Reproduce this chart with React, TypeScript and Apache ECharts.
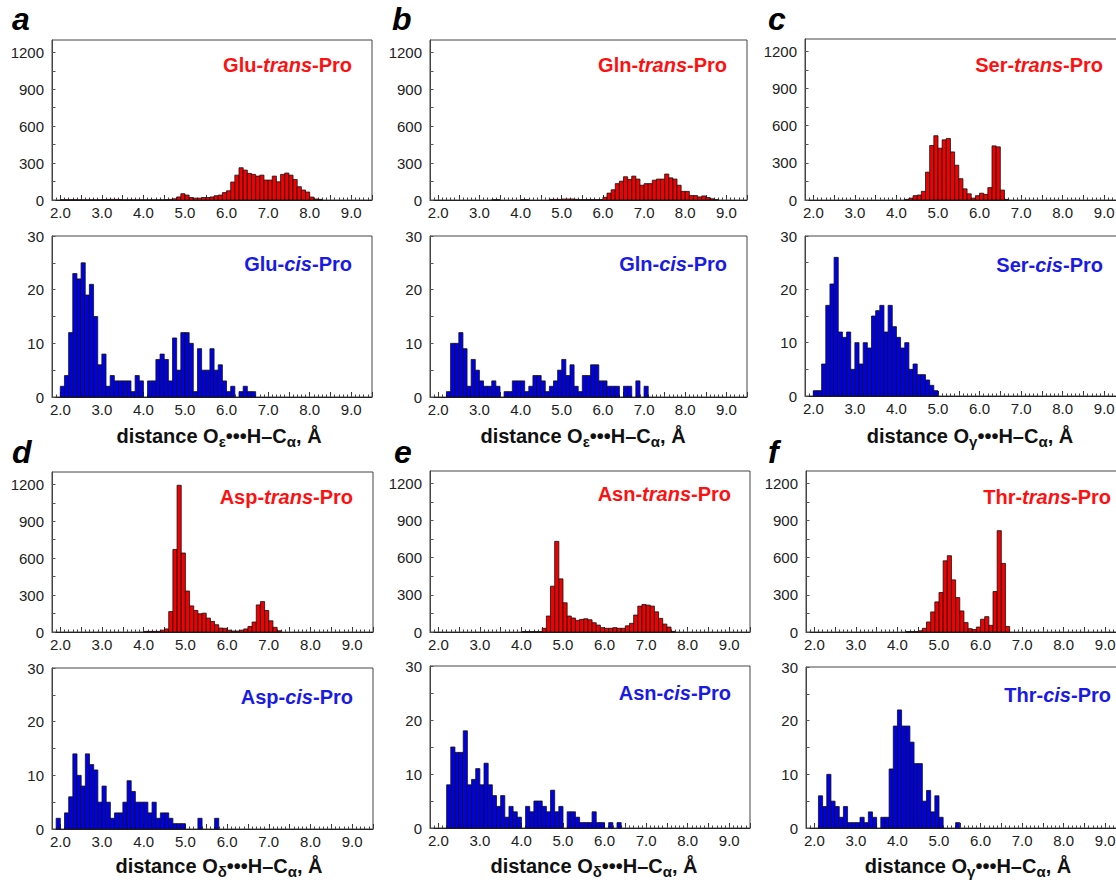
import React, { useEffect, useRef } from "react";
import * as echarts from "echarts";

// ---------- axes ----------
const BIN_WIDTH = 0.1;
const X_MIN = 1.8;
const X_MAX = 9.5;
const X_LABELS = [2, 3, 4, 5, 6, 7, 8, 9];
const X_MAJOR_TICKS = [2, 2.5, 3, 3.5, 4, 4.5, 5, 5.5, 6, 6.5, 7, 7.5, 8, 8.5, 9, 9.5];
const X_MINOR_TICKS: number[] = [];
for (let k = 18; k <= 95; k++) X_MINOR_TICKS.push(k / 10);

const TRANS_Y_MAX = 1300;
const TRANS_Y_LABELS = [0, 300, 600, 900, 1200];
const TRANS_Y_TICKS = [0, 150, 300, 450, 600, 750, 900, 1050, 1200];
const CIS_Y_MAX = 30;
const CIS_Y_LABELS = [0, 10, 20, 30];
const CIS_Y_TICKS = [0, 5, 10, 15, 20, 25, 30];

// ---------- histogram data (bin start, then counts per 0.1 Å bin) ----------
const GLU_TRANS_START = 2.0;
const GLU_TRANS = [
  2, 2, 2, 2, 1, 1, 1, 1, 1, 1,
  4, 5, 5, 5, 4, 1, 1, 1, 1, 1,
  1, 1, 1, 1, 1, 3, 5, 10, 25, 51,
  40, 20, 15, 15, 20, 20, 25, 35, 40, 60,
  75, 146, 202, 262, 243, 216, 208, 194, 202, 162,
  162, 194, 148, 208, 219, 202, 167, 108, 81, 65,
  24, 8, 5,
];
const GLU_CIS_START = 2.0;
const GLU_CIS = [
  2, 4, 12, 23, 22, 25, 19, 21, 15, 6,
  8, 2, 4, 3, 3, 3, 3, 1, 4, 3,
  0, 3, 3, 7, 8, 7, 3, 11, 5, 12,
  12, 10, 1, 9, 5, 5, 9, 5, 6, 3,
  1, 2, 0, 1, 2, 1, 1,
];
const GLN_TRANS_START = 3.0;
const GLN_TRANS = [
  0, 0, 0, 2, 2, 0, 0, 0, 0, 0,
  2, 2, 0, 0, 0, 0, 0, 5, 5, 5,
  8, 8, 8, 5, 3, 3, 3, 3, 3, 3,
  22, 56, 83, 133, 153, 189, 167, 194, 170, 120,
  133, 133, 161, 170, 170, 211, 180, 170, 120, 70,
  70, 36, 36, 25, 33, 20, 10, 3,
];
const GLN_CIS_START = 2.2;
const GLN_CIS = [
  1, 10, 10, 12, 9, 2, 7, 5,
  3, 2, 2, 3, 2, 0, 1, 1, 3, 3,
  3, 1, 2, 4, 4, 3, 1, 2, 3, 5,
  7, 4, 6, 2, 1, 4, 4, 6, 6, 3,
  3, 2, 2, 2, 0, 2, 2, 0, 3, 0,
  2,
];
const SER_TRANS_START = 4.2;
const SER_TRANS = [
  5, 15, 35, 40, 70, 225, 440, 519,
  418, 486, 497, 388, 281, 172, 90, 50, 15, 35,
  55, 45, 100, 437, 429, 80, 5,
];
const SER_CIS_START = 2.0;
const SER_CIS = [
  1, 1, 6, 17, 21, 26, 12, 11, 12, 5,
  10, 6, 10, 9, 15, 16, 17, 12, 17, 13,
  11, 9, 10, 5, 6, 4, 4, 3, 2, 1,
];
const ASP_TRANS_START = 4.0;
const ASP_TRANS = [
  5, 5, 5, 5, 15, 25, 166, 671, 1192, 642,
  333, 212, 175, 148, 153, 113, 86, 59, 32, 30,
  15, 8, 8, 15, 25, 45, 81, 220, 247, 175,
  91, 38, 10,
];
const ASP_CIS_START = 1.9;
const ASP_CIS = [
  2, 0, 3, 6, 14, 10, 8, 14, 12, 11, 5,
  8, 5, 2, 3, 3, 5, 9, 7, 5, 5,
  5, 3, 5, 2, 3, 3, 2, 1, 1, 1,
  0, 0, 0, 2, 0, 0, 0, 2,
];
const ASN_TRANS_START = 4.0;
const ASN_TRANS = [
  3, 3, 3, 3, 3, 30, 129, 370, 732, 429,
  236, 129, 113, 94, 102, 107, 99, 75, 56, 35,
  30, 30, 35, 30, 30, 50, 70, 137, 209, 222,
  217, 209, 163, 110, 64, 40, 5,
];
const ASN_CIS_START = 2.2;
const ASN_CIS = [
  8, 15, 14, 14, 18, 8, 9, 11,
  8, 12, 8, 6, 4, 6, 2, 4, 3, 2,
  0, 4, 3, 5, 5, 4, 3, 7, 3, 4,
  0, 3, 3, 2, 1, 1, 1, 3, 1, 1,
  0, 1, 0, 1,
];
const THR_TRANS_START = 4.2;
const THR_TRANS = [
  3, 3, 3, 10, 30, 81, 162, 243,
  319, 575, 616, 421, 278, 170, 76, 27, 20, 40,
  103, 124, 54, 327, 818, 554, 45,
];
const THR_CIS_START = 2.1;
const THR_CIS = [
  6, 4, 10, 5, 4, 2, 4, 1, 1,
  1, 2, 1, 3, 2, 0, 2, 2, 11, 19,
  22, 19, 19, 16, 12, 12, 5, 7, 3, 6,
  2, 0, 0, 0, 1,
];

// ---------- panel layout ----------
const PANELS = [
  { letter: "a", residue: "Glu", atom: "ε", transStart: GLU_TRANS_START, trans: GLU_TRANS, cisStart: GLU_CIS_START, cis: GLU_CIS,
    left: 52, width: 320, transTop: 40, transH: 160, cisTop: 236, cisH: 161,
    titleRight: 352, transTitleY: 65, cisTitleY: 264, letterX: 12, letterY: 3, axisTitleX: 219, axisTitleY: 436 },
  { letter: "b", residue: "Gln", atom: "ε", transStart: GLN_TRANS_START, trans: GLN_TRANS, cisStart: GLN_CIS_START, cis: GLN_CIS,
    left: 430, width: 317, transTop: 40, transH: 160, cisTop: 236, cisH: 161,
    titleRight: 727, transTitleY: 65, cisTitleY: 264, letterX: 392, letterY: 3, axisTitleX: 583, axisTitleY: 436 },
  { letter: "c", residue: "Ser", atom: "γ", transStart: SER_TRANS_START, trans: SER_TRANS, cisStart: SER_CIS_START, cis: SER_CIS,
    left: 805, width: 320, transTop: 39, transH: 161, cisTop: 236, cisH: 160,
    titleRight: 1103, transTitleY: 65, cisTitleY: 265, letterX: 768, letterY: 3, axisTitleX: 970, axisTitleY: 436 },
  { letter: "d", residue: "Asp", atom: "δ", transStart: ASP_TRANS_START, trans: ASP_TRANS, cisStart: ASP_CIS_START, cis: ASP_CIS,
    left: 52, width: 321, transTop: 472, transH: 160, cisTop: 668, cisH: 161,
    titleRight: 353, transTitleY: 497, cisTitleY: 697, letterX: 12, letterY: 436, axisTitleX: 219, axisTitleY: 866 },
  { letter: "e", residue: "Asn", atom: "δ", transStart: ASN_TRANS_START, trans: ASN_TRANS, cisStart: ASN_CIS_START, cis: ASN_CIS,
    left: 430, width: 320, transTop: 471, transH: 161, cisTop: 666, cisH: 162,
    titleRight: 731, transTitleY: 494, cisTitleY: 693, letterX: 394, letterY: 436, axisTitleX: 594, axisTitleY: 866 },
  { letter: "f", residue: "Thr", atom: "γ", transStart: THR_TRANS_START, trans: THR_TRANS, cisStart: THR_CIS_START, cis: THR_CIS,
    left: 806, width: 320, transTop: 471, transH: 161, cisTop: 667, cisH: 161,
    titleRight: 1111, transTitleY: 497, cisTitleY: 695, letterX: 768, letterY: 436, axisTitleX: 968, axisTitleY: 866 },
];

const FONT = '"Liberation Sans", Arial, Helvetica, sans-serif';
const RED_BAR = "#f00000";
const BLUE_BAR = "#0000e8";
const RED_TEXT = "#ff1010";
const BLUE_TEXT = "#1a1ae6";
const FRAME = "#444";

function makeRender(fill: string) {
  return (_params: any, api: any) => {
    const x0 = api.value(0);
    const v = api.value(1);
    if (!v) return null;
    const a = api.coord([x0, v]);
    const b = api.coord([x0 + BIN_WIDTH, 0]);
    return {
      type: "rect",
      shape: { x: a[0], y: a[1], width: b[0] - a[0], height: b[1] - a[1] },
      style: { fill, stroke: "#111", lineWidth: 0.8 },
    };
  };
}

function buildOption() {
  const grid: any[] = [];
  const xAxis: any[] = [];
  const yAxis: any[] = [];
  const series: any[] = [];
  const graphic: any[] = [];

  PANELS.forEach((p) => {
    const subs = [
      { kind: "trans", start: p.transStart, counts: p.trans, top: p.transTop, h: p.transH, yMax: TRANS_Y_MAX,
        yLabels: TRANS_Y_LABELS, yTicks: TRANS_Y_TICKS, bar: RED_BAR, text: RED_TEXT, titleY: p.transTitleY },
      { kind: "cis", start: p.cisStart, counts: p.cis, top: p.cisTop, h: p.cisH, yMax: CIS_Y_MAX,
        yLabels: CIS_Y_LABELS, yTicks: CIS_Y_TICKS, bar: BLUE_BAR, text: BLUE_TEXT, titleY: p.cisTitleY },
    ];
    subs.forEach((s) => {
      const gi = grid.length;
      grid.push({
        left: p.left, top: s.top, width: p.width, height: s.h,
        show: true, borderColor: FRAME, borderWidth: 1, backgroundColor: "transparent",
        containLabel: false, outerBoundsMode: "none",
      });
      xAxis.push({
        gridIndex: gi, type: "value", min: X_MIN, max: X_MAX, position: "bottom",
        axisLine: { show: true, onZero: false, lineStyle: { color: "#222", width: 1 } },
        axisTick: { show: true, inside: true, length: 5, customValues: X_MAJOR_TICKS, lineStyle: { color: "#333", width: 1 } },
        axisLabel: { show: true, customValues: X_LABELS, formatter: (v: number) => v.toFixed(1),
          fontSize: 15, fontFamily: FONT, color: "#222", margin: 5 },
        splitLine: { show: false },
      });
      xAxis.push({
        gridIndex: gi, type: "value", min: X_MIN, max: X_MAX, position: "bottom",
        axisLine: { show: false },
        axisTick: { show: true, inside: true, length: 2.5, customValues: X_MINOR_TICKS, lineStyle: { color: "#444", width: 1 } },
        axisLabel: { show: false },
        splitLine: { show: false },
      });
      yAxis.push({
        gridIndex: gi, type: "value", min: 0, max: s.yMax,
        axisLine: { show: true, lineStyle: { color: FRAME, width: 1 } },
        axisTick: { show: true, inside: true, length: 3.5, customValues: s.yTicks, lineStyle: { color: "#555", width: 1 } },
        axisLabel: { show: true, customValues: s.yLabels, formatter: (v: number) => String(v),
          fontSize: 15, fontFamily: FONT, color: "#222", margin: 8 },
        splitLine: { show: false },
      });
      series.push({
        type: "custom",
        name: `${p.residue}-${s.kind}-Pro`,
        xAxisIndex: 2 * gi,
        yAxisIndex: gi,
        encode: { x: 0, y: 1 },
        data: s.counts.map((c, i) => [Math.round((s.start + i * BIN_WIDTH) * 10) / 10, c]),
        renderItem: makeRender(s.bar),
        silent: true,
      });
      graphic.push({
        type: "text", x: p.titleRight, y: s.titleY, silent: true,
        style: {
          text: `{r|${p.residue}-}{i|${s.kind}}{r|-Pro}`,
          rich: {
            r: { font: `bold 20px ${FONT}`, fill: s.text, color: s.text },
            i: { font: `italic bold 20px ${FONT}`, fill: s.text, color: s.text },
          },
          align: "right", verticalAlign: "middle", textAlign: "right", textVerticalAlign: "middle",
          fill: s.text, font: `bold 20px ${FONT}`,
        },
      });
    });

    graphic.push({
      type: "text", x: p.letterX, y: p.letterY, silent: true,
      style: { text: p.letter, font: `italic bold 32px ${FONT}`, fill: "#000", align: "left", verticalAlign: "top",
        textAlign: "left", textVerticalAlign: "top" },
    });
    graphic.push({
      type: "text", x: p.axisTitleX, y: p.axisTitleY, silent: true,
      style: {
        text: `{n|distance O}{s|${p.atom}}{n|•••H–C}{s|α}{n|, Å}`,
        rich: {
          n: { font: `bold 20px ${FONT}`, fill: "#111", color: "#111" },
          s: { font: `bold 15px ${FONT}`, fill: "#111", color: "#111", padding: [10, 0, 0, 0] },
        },
        align: "center", verticalAlign: "middle", textAlign: "center", textVerticalAlign: "middle",
        fill: "#111", font: `bold 20px ${FONT}`,
      },
    });
  });

  return { animation: false, backgroundColor: "#fff", grid, xAxis, yAxis, series, graphic };
}

export default function App() {
  const ref = useRef<HTMLDivElement>(null);
  useEffect(() => {
    if (!ref.current) return;
    const chart = echarts.init(ref.current, undefined, { renderer: "svg" });
    chart.setOption(buildOption() as any);
    return () => chart.dispose();
  }, []);
  return (
    <div style={{ position: "absolute", left: 0, top: 0, width: 1116, height: 880, overflow: "hidden", background: "#fff" }}>
      <div ref={ref} style={{ position: "absolute", left: 0, top: 0, width: 1140, height: 880 }} />
    </div>
  );
}
